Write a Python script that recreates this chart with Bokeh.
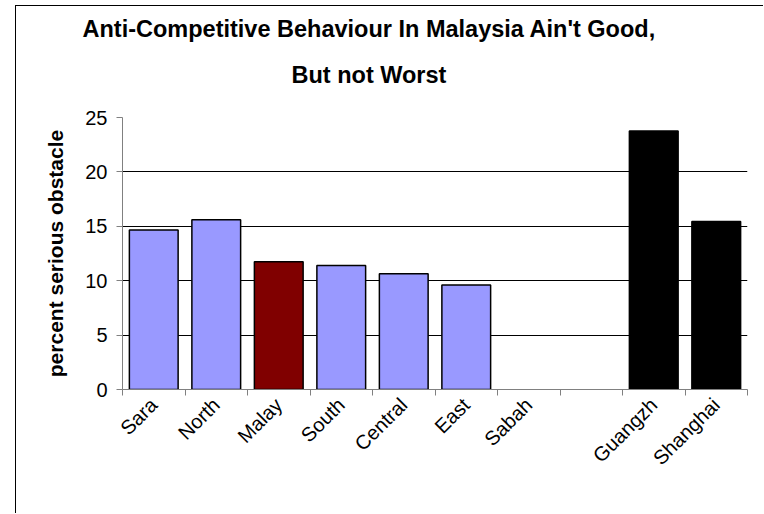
import math
from bokeh.plotting import figure
from bokeh.models import ColumnDataSource, FixedTicker, Range1d, Title
from bokeh.embed import file_html
from bokeh.resources import INLINE

# ---- data ----
categories = ["Sara", "North", "Malay", "South", "Central", "East", "Sabah", "", "Guangzh", "Shanghai"]
values = [14.65, 15.6, 11.75, 11.4, 10.65, 9.6, None, None, 23.75, 15.45]
colors = ["#9999FF", "#9999FF", "#800000", "#9999FF", "#9999FF", "#9999FF",
          "#9999FF", "#9999FF", "#000000", "#000000"]
title_lines = ["Anti-Competitive Behaviour In Malaysia Ain't Good,", "But not Worst"]
y_label = "percent serious obstacle"
y_ticks = [0, 5, 10, 15, 20, 25]

centers = [i + 0.5 for i in range(len(categories))]
boundaries = list(range(len(categories) + 1))

xs, tops, cols = [], [], []
for c, v, col in zip(centers, values, colors):
    if v is not None:
        xs.append(c); tops.append(v); cols.append(col)
src = ColumnDataSource(dict(x=xs, top=tops, color=cols))

FONT = "Liberation Sans"

p = figure(width=748, height=508, output_backend="svg", toolbar_location=None,
           x_range=Range1d(0, len(categories)), y_range=Range1d(0, 25),
           min_border_left=106, min_border_right=17, min_border_top=111, min_border_bottom=125)
p.styles = {"margin-left": "15px", "margin-top": "5px",
            "border-left": "1.5px solid #000000", "border-top": "1.5px solid #000000"}
p.outline_line_color = None
p.background_fill_color = "white"

p.vbar(x="x", top="top", width=0.78, bottom=0, source=src, fill_color="color",
       line_color="black", line_width=1.5)

# title: two stacked lines (second line nearest the plot)
p.title.visible = False
title_offsets = [-40, 169]
title_standoffs = [-25, 60]
for line, off, so in reversed(list(zip(title_lines, title_offsets, title_standoffs))):
    p.add_layout(Title(text=line, align="left", offset=off, standoff=so,
                       text_font=FONT, text_font_size="23.5px", text_font_style="bold",
                       text_color="black"), "above")

# grid
p.xgrid.visible = False
p.ygrid.ticker = FixedTicker(ticks=y_ticks)
p.ygrid.grid_line_color = "black"
p.ygrid.grid_line_width = 1

# y axis
p.yaxis.ticker = FixedTicker(ticks=y_ticks)
p.yaxis.axis_line_color = "#808080"
p.yaxis.major_tick_line_color = "#808080"
p.yaxis.major_tick_out = 6
p.yaxis.major_tick_in = 0
p.yaxis.minor_tick_line_color = None
p.yaxis.major_label_text_font = FONT
p.yaxis.major_label_text_font_size = "20px"
p.yaxis.major_label_text_color = "black"
p.yaxis.major_label_standoff = 9
p.yaxis.axis_label = y_label
p.yaxis.axis_label_text_font = FONT
p.yaxis.axis_label_text_font_size = "21px"
p.yaxis.axis_label_text_font_style = "bold"
p.yaxis.axis_label_text_color = "black"
p.yaxis.axis_label_standoff = 15

# x axis: labels at centres, tick marks at boundaries
p.xaxis.ticker = FixedTicker(ticks=centers, minor_ticks=boundaries)
p.xaxis.major_label_overrides = {c: lab for c, lab in zip(centers, categories)}
p.xaxis.major_tick_line_color = None
p.xaxis.minor_tick_line_color = "#808080"
p.xaxis.minor_tick_out = 6
p.xaxis.minor_tick_in = 0
p.xaxis.axis_line_color = "#808080"
p.xaxis.major_label_orientation = math.pi / 4
p.xaxis.major_label_text_font = FONT
p.xaxis.major_label_text_font_size = "20px"
p.xaxis.major_label_text_color = "black"
p.xaxis.major_label_standoff = 6

open("out.html", "w").write(file_html(p, INLINE))
